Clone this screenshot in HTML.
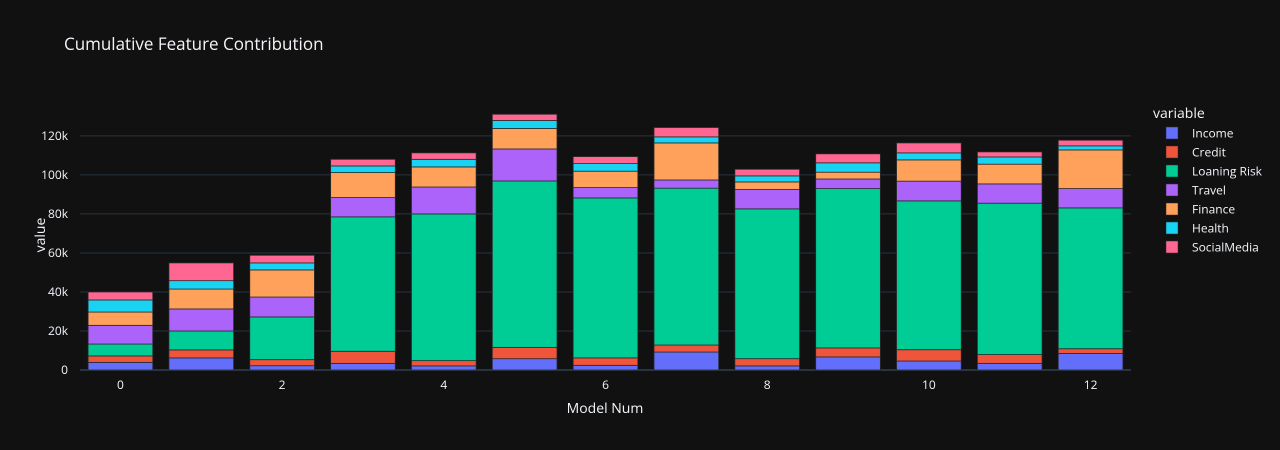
<!DOCTYPE html>
<html><head><meta charset="utf-8"><style>
html,body{margin:0;padding:0;background:#111111;width:1280px;height:450px;overflow:hidden;}
svg{display:block;}
svg text{font-family:"Open Sans","Liberation Sans",sans-serif;}
</style></head><body>
<svg id="chart" width="1280" height="450" xmlns="http://www.w3.org/2000/svg">
<rect width="1280" height="450" fill="#111111"/>
<text x="64" y="50" fill="#f2f5fa" font-size="17">Cumulative Feature Contribution</text>
<g id="grid"></g><g id="bars"></g><g id="axes"></g><g id="legend"></g>
<text x="605" y="413" fill="#f2f5fa" font-size="14" text-anchor="middle">Model Num</text>
<text x="0" y="0" transform="translate(45,235) rotate(-90)" fill="#f2f5fa" font-size="14" text-anchor="middle">value</text>
</svg>
<script>
const categories=[0,1,2,3,4,5,6,7,8,9,10,11,12];
const seriesNames=["Income","Credit","Loaning Risk","Travel","Finance","Health","SocialMedia"];
const seriesColors=["#636efa","#EF553B","#00cc96","#ab63fa","#FFA15A","#19d3f3","#FF6692"];
const income=[3.9,6.2,2.2,3.4,2.1,5.8,2.4,9.2,2.1,6.7,4.6,3.4,8.5];
const credit=[3.3,4.1,3.1,6.2,2.7,5.8,3.8,3.6,3.7,4.6,5.8,4.5,2.4];
const loaningRisk=[6.1,9.7,21.9,68.9,75.2,85.3,82.0,80.4,76.8,81.7,76.3,77.6,72.2];
const travel=[9.6,11.3,10.2,9.9,13.8,16.4,5.3,4.2,9.9,4.9,10.1,9.9,9.9];
const finance=[6.8,10.2,13.9,12.8,10.3,10.5,8.4,19.0,3.9,3.5,10.9,10.1,19.8];
const health=[6.2,4.3,3.6,3.4,3.9,4.1,3.9,3.1,3.1,4.8,3.6,3.7,2.1];
const socialMedia=[4.1,9.1,3.9,3.4,3.3,3.2,3.6,4.8,3.4,4.6,5.1,2.6,2.9];
const yTicks=[0,20,40,60,80,100,120];
const yTickLabels=["0","20k","40k","60k","80k","100k","120k"];
const xTicks=[0,2,4,6,8,10,12];

const series=[income,credit,loaningRisk,travel,finance,health,socialMedia];
const NS="http://www.w3.org/2000/svg";
const L=80,R=1131,T=100,B=370,yMax=138.4;
const step=(R-L)/categories.length;
const xPos=c=>L+step*(c+0.5);
const yPos=v=>B-(v/yMax)*(B-T);
function mk(tag,attrs,parent){const e=document.createElementNS(NS,tag);for(const k in attrs)e.setAttribute(k,attrs[k]);parent.appendChild(e);return e;}
const grid=document.getElementById('grid'),bars=document.getElementById('bars'),axes=document.getElementById('axes'),legend=document.getElementById('legend');
yTicks.forEach((t,i)=>{
  const y=yPos(t);
  const ln=mk('line',{x1:L,x2:R,y1:y,y2:y,stroke:'#283442','stroke-width':t===0?2:1},grid);
  
  
  const tx=mk('text',{x:68,y:y+4,fill:'#f2f5fa','font-size':12,'text-anchor':'end'},axes);
  tx.textContent=yTickLabels[i];
  
  
});
xTicks.forEach(t=>{
  const tx=mk('text',{x:xPos(t),y:389,fill:'#f2f5fa','font-size':12,'text-anchor':'middle'},axes);
  tx.textContent=String(t);
  
  
});
const bw=step*0.8;
categories.forEach((c,ci)=>{
  let cum=0;
  series.forEach((s,si)=>{
    const y1=yPos(cum),y2=yPos(cum+s[ci]);cum+=s[ci];
    const r=mk('rect',{x:xPos(c)-bw/2,y:y2,width:bw,height:y1-y2,fill:seriesColors[si],stroke:'#2a2a2a','stroke-width':0.8},bars);
    
    
  });
});
const lt=mk('text',{x:1153,y:118,fill:'#f2f5fa','font-size':14},legend);
lt.textContent='variable';


seriesNames.forEach((n,i)=>{
  const y=133+i*19;
  const g=mk('g',{},legend);
  
  
  mk('rect',{x:1166,y:y-6,width:12,height:12,fill:seriesColors[i],stroke:'#2a2a2a','stroke-width':0.5},g);
  const t=mk('text',{x:1192,y:y+4.5,fill:'#f2f5fa','font-size':12},g);
  t.textContent=n;
});
</script>
</body></html>
